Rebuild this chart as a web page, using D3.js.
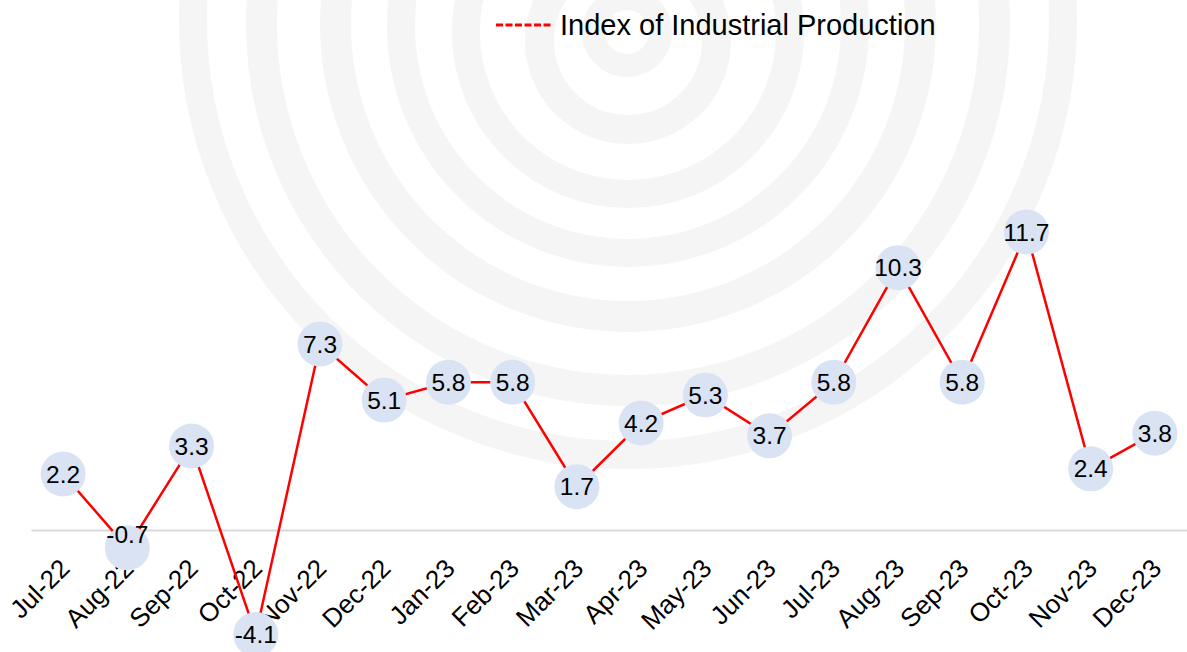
<!DOCTYPE html>
<html>
<head>
<meta charset="utf-8">
<script src="https://cdn.jsdelivr.net/npm/d3@7"></script>
<style>
  body { margin: 0; background: #fff; }
  svg { display: block; font-family: Arial, "Liberation Sans", sans-serif; }
</style>
</head>
<body>
<div id="chart"></div>
<script>
// Data
const months = ["Jul-22", "Aug-22", "Sep-22", "Oct-22", "Nov-22", "Dec-22",
  "Jan-23", "Feb-23", "Mar-23", "Apr-23", "May-23", "Jun-23",
  "Jul-23", "Aug-23", "Sep-23", "Oct-23", "Nov-23", "Dec-23"];
const iipValues = [2.2, -0.7, 3.3, -4.1, 7.3, 5.1, 5.8, 5.8, 1.7, 4.2, 5.3, 3.7,
  5.8, 10.3, 5.8, 11.7, 2.4, 3.8];
const seriesName = "Index of Industrial Production";

const data = months.map((m, i) => ({month: m, value: iipValues[i]}));

const width = 1187;
const height = 652;

const svg = d3.select("#chart")
  .append("svg")
  .attr("width", width)
  .attr("height", height);

// Faint ring watermark behind the chart: [cx, cy, outer radius, band width]
const rings = [
  [628, 20, 449, 28],
  [628, 24, 382, 31],
  [628, 24, 308, 31],
  [628, 26, 241, 28],
  [628, 32, 176, 28],
  [628, 41, 103, 29],
  [627, 32, 45, 23]
];
svg.append("g")
  .selectAll("circle")
  .data(rings)
  .join("circle")
  .attr("cx", d => d[0])
  .attr("cy", d => d[1])
  .attr("r", d => d[2] - d[3] / 2)
  .attr("fill", "none")
  .attr("stroke", "#f5f5f5")
  .attr("stroke-width", d => d[3]);

// Scales
const x = d3.scaleBand()
  .domain(months)
  .range([31, 1187]);

const y = d3.scaleLinear()
  .domain([0, 12])
  .range([530, 530 - 12 * 25.47]);

const cx = d => x(d.month) + x.bandwidth() / 2;

// X axis: baseline + rotated labels
const xAxis = svg.append("g")
  .attr("transform", `translate(0,${y(0)})`)
  .call(d3.axisBottom(x).tickSize(0).tickPadding(0));

xAxis.select(".domain")
  .attr("stroke", "#d9d9d9")
  .attr("stroke-width", 2);

xAxis.selectAll(".tick text")
  .attr("font-size", 26)
  .attr("font-family", "Arial, 'Liberation Sans', sans-serif")
  .attr("fill", "#000")
  .attr("text-anchor", "end")
  .attr("dy", 0)
  .attr("transform", "translate(8,40) rotate(-45)");

// Line
const line = d3.line()
  .x(cx)
  .y(d => y(d.value));

svg.append("path")
  .datum(data)
  .attr("fill", "none")
  .attr("stroke", "#ff0000")
  .attr("stroke-width", 2.5)
  .attr("d", line);

// Label bubbles
svg.selectAll(".bubble")
  .data(data)
  .join("circle")
  .attr("class", "bubble")
  .attr("cx", cx)
  .attr("cy", d => y(d.value))
  .attr("r", 22.5)
  .attr("fill", "#dae3f3");

// the Aug-22 label sits a bit above its bubble in the original
const labelNudge = {"Aug-22": -13};

svg.selectAll(".val")
  .data(data)
  .join("text")
  .attr("class", "val")
  .attr("x", cx)
  .attr("y", d => y(d.value) + (labelNudge[d.month] || 0))
  .attr("dy", "0.35em")
  .attr("text-anchor", "middle")
  .attr("font-size", 24.5)
  .attr("fill", "#000")
  .text(d => d.value.toFixed(1));

// Legend
const legend = svg.append("g");
legend.append("line")
  .attr("x1", 496)
  .attr("x2", 553)
  .attr("y1", 25)
  .attr("y2", 25)
  .attr("stroke", "#ff0000")
  .attr("stroke-width", 3)
  .attr("stroke-dasharray", "7,2.5");
legend.append("text")
  .attr("x", 560)
  .attr("y", 35)
  .attr("font-size", 29)
  .attr("fill", "#000")
  .text(seriesName);
</script>
</body>
</html>
